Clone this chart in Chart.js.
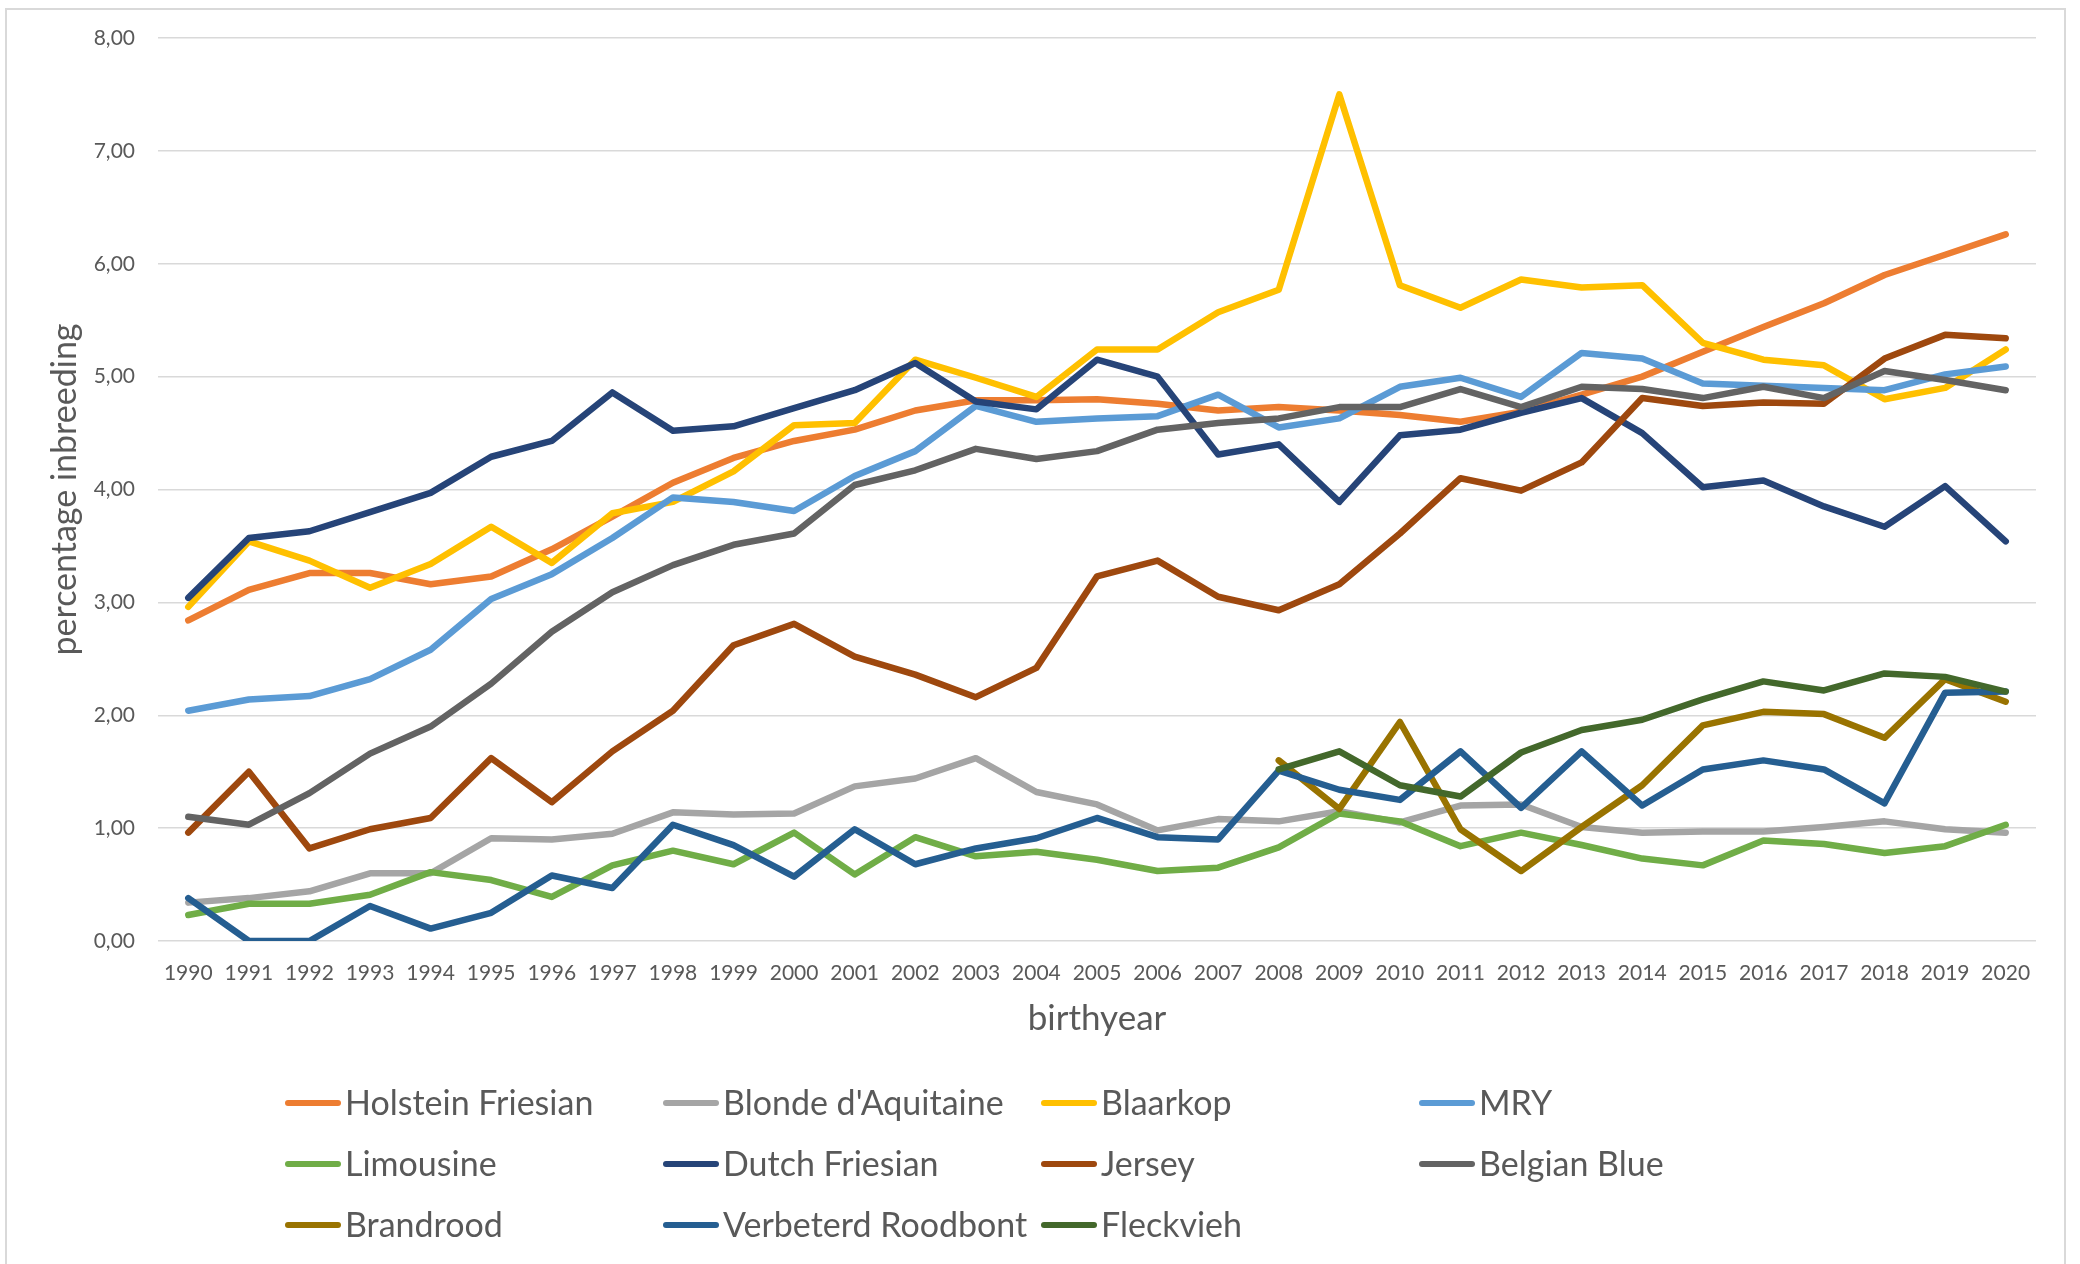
<!DOCTYPE html>
<html>
<head>
<meta charset="utf-8">
<script src="https://cdn.jsdelivr.net/npm/chart.js@4.4.1/dist/chart.umd.min.js"></script>
<style>
  html, body { margin: 0; padding: 0; background: #fff; }
  #wrap { width: 2080px; height: 1264px; }
</style>
</head>
<body>
<div id="wrap"><canvas id="inbreedingChart" width="2080" height="1264"></canvas></div>
<script>
// --- data ---
const years = ['1990','1991','1992','1993','1994','1995','1996','1997','1998','1999','2000',
  '2001','2002','2003','2004','2005','2006','2007','2008','2009','2010',
  '2011','2012','2013','2014','2015','2016','2017','2018','2019','2020'];

const breeds = ['Holstein Friesian', "Blonde d'Aquitaine", 'Blaarkop', 'MRY',
  'Limousine', 'Dutch Friesian', 'Jersey', 'Belgian Blue',
  'Brandrood', 'Verbeterd Roodbont', 'Fleckvieh'];

const holsteinFriesian = [2.84, 3.11, 3.26, 3.26, 3.16, 3.23, 3.47, 3.76, 4.06, 4.28, 4.43,
  4.53, 4.70, 4.79, 4.79, 4.80, 4.76, 4.70, 4.73, 4.70, 4.66,
  4.60, 4.69, 4.84, 5.00, 5.22, 5.44, 5.65, 5.90, 6.08, 6.26];
const blondeAquitaine = [0.34, 0.38, 0.44, 0.60, 0.60, 0.91, 0.90, 0.95, 1.14, 1.12, 1.13,
  1.37, 1.44, 1.62, 1.32, 1.21, 0.98, 1.08, 1.06, 1.15, 1.05,
  1.20, 1.21, 1.01, 0.96, 0.97, 0.97, 1.01, 1.06, 0.99, 0.96];
const blaarkop = [2.96, 3.54, 3.37, 3.13, 3.34, 3.67, 3.35, 3.79, 3.89, 4.16, 4.57,
  4.59, 5.15, 4.99, 4.82, 5.24, 5.24, 5.57, 5.77, 7.50, 5.81,
  5.61, 5.86, 5.79, 5.81, 5.30, 5.15, 5.10, 4.80, 4.90, 5.24];
const mry = [2.04, 2.14, 2.17, 2.32, 2.58, 3.03, 3.25, 3.57, 3.93, 3.89, 3.81,
  4.12, 4.34, 4.74, 4.60, 4.63, 4.65, 4.84, 4.55, 4.63, 4.91,
  4.99, 4.82, 5.21, 5.16, 4.94, 4.92, 4.90, 4.88, 5.02, 5.09];
const limousine = [0.23, 0.33, 0.33, 0.41, 0.61, 0.54, 0.39, 0.67, 0.80, 0.68, 0.96,
  0.59, 0.92, 0.75, 0.79, 0.72, 0.62, 0.65, 0.83, 1.13, 1.06,
  0.84, 0.96, 0.85, 0.73, 0.67, 0.89, 0.86, 0.78, 0.84, 1.03];
const dutchFriesian = [3.04, 3.57, 3.63, 3.80, 3.97, 4.29, 4.43, 4.86, 4.52, 4.56, 4.72,
  4.88, 5.12, 4.78, 4.71, 5.15, 5.00, 4.31, 4.40, 3.89, 4.48,
  4.53, 4.68, 4.81, 4.50, 4.02, 4.08, 3.85, 3.67, 4.03, 3.54];
const jersey = [0.96, 1.50, 0.82, 0.99, 1.09, 1.62, 1.23, 1.68, 2.04, 2.62, 2.81,
  2.52, 2.36, 2.16, 2.42, 3.23, 3.37, 3.05, 2.93, 3.16, 3.61,
  4.10, 3.99, 4.24, 4.81, 4.74, 4.77, 4.76, 5.16, 5.37, 5.34];
const belgianBlue = [1.10, 1.03, 1.31, 1.66, 1.90, 2.28, 2.74, 3.09, 3.33, 3.51, 3.61,
  4.04, 4.17, 4.36, 4.27, 4.34, 4.53, 4.59, 4.63, 4.73, 4.73,
  4.89, 4.73, 4.91, 4.89, 4.81, 4.91, 4.81, 5.05, 4.97, 4.88];
const brandrood = [null, null, null, null, null, null, null, null, null, null, null,
  null, null, null, null, null, null, null, 1.60, 1.17, 1.94,
  0.99, 0.62, 1.01, 1.38, 1.91, 2.03, 2.01, 1.80, 2.32, 2.12];
const verbeterdRoodbont = [0.38, 0.00, 0.00, 0.31, 0.11, 0.25, 0.58, 0.47, 1.03, 0.85, 0.57,
  0.99, 0.68, 0.82, 0.91, 1.09, 0.92, 0.90, 1.51, 1.34, 1.25,
  1.68, 1.18, 1.68, 1.20, 1.52, 1.60, 1.52, 1.22, 2.20, 2.21];
const fleckvieh = [null, null, null, null, null, null, null, null, null, null, null,
  null, null, null, null, null, null, null, 1.52, 1.68, 1.38,
  1.28, 1.67, 1.87, 1.96, 2.14, 2.30, 2.22, 2.37, 2.34, 2.21];

const yTicks = [0, 1, 2, 3, 4, 5, 6, 7, 8];

const seriesValues = [holsteinFriesian, blondeAquitaine, blaarkop, mry, limousine,
  dutchFriesian, jersey, belgianBlue, brandrood, verbeterdRoodbont, fleckvieh];
const seriesColors = ['#ED7D31', '#A5A5A5', '#FFC000', '#5B9BD5', '#70AD47',
  '#264478', '#9E480E', '#636363', '#997300', '#255E91', '#43682B'];

const FONT = 'Lato, "Open Sans", sans-serif';
const TEXT = '#595959';

// white background + light frame like the office chart box
const frame = {
  id: 'frame',
  beforeDraw(chart) {
    const ctx = chart.ctx;
    ctx.save();
    ctx.fillStyle = '#fff';
    ctx.fillRect(0, 0, chart.width, chart.height);
    ctx.strokeStyle = '#d9d9d9';
    ctx.lineWidth = 2;
    ctx.strokeRect(6, 9, chart.width - 21, chart.height + 20);
    ctx.restore();
  }
};

// legend as a 4-column grid below the axis title
const gridLegend = {
  id: 'gridLegend',
  afterDraw(chart) {
    const ctx = chart.ctx;
    const left = chart.chartArea.left + 127;
    const top = chart.height - 161;
    ctx.save();
    chart.data.datasets.forEach((ds, i) => {
      const x = left + (i % 4) * 378;
      const y = top + Math.floor(i / 4) * 61;
      ctx.strokeStyle = ds.borderColor;
      ctx.lineWidth = 6;
      ctx.lineCap = 'round';
      ctx.beginPath();
      ctx.moveTo(x + 3, y);
      ctx.lineTo(x + 53, y);
      ctx.stroke();
      ctx.fillStyle = TEXT;
      ctx.font = '34px ' + FONT;
      ctx.textBaseline = 'middle';
      ctx.textAlign = 'left';
      ctx.fillText(ds.label, x + 60, y + 1);
    });
    ctx.restore();
  }
};

const ctx = document.getElementById('inbreedingChart').getContext('2d');
new Chart(ctx, {
  type: 'line',
  data: {
    labels: years,
    datasets: breeds.map((name, i) => ({
      label: name,
      data: seriesValues[i],
      borderColor: seriesColors[i],
      backgroundColor: seriesColors[i],
      borderWidth: 6.5,
      borderCapStyle: 'round',
      borderJoinStyle: 'round',
      pointRadius: 0,
      pointHoverRadius: 0,
      tension: 0,
      spanGaps: false,
      fill: false,
      order: breeds.length - i
    }))
  },
  options: {
    responsive: false,
    animation: false,
    layout: { padding: { top: 38, right: 44, bottom: 189, left: 10 } },
    plugins: {
      legend: { display: false },
      tooltip: { enabled: false }
    },
    scales: {
      x: {
        offset: true,
        grid: { display: false, drawTicks: false },
        border: { display: false },
        ticks: {
          color: TEXT,
          font: { family: FONT, size: 21 },
          padding: 20,
          maxRotation: 0,
          autoSkip: false
        },
        title: {
          display: true,
          text: 'birthyear',
          color: TEXT,
          font: { family: FONT, size: 35 },
          padding: { top: 0, bottom: 35 }
        },
        afterFit: (scale) => { scale.height = 134; }
      },
      y: {
        min: 0,
        max: 8,
        afterBuildTicks: (scale) => { scale.ticks = yTicks.map(v => ({ value: v })); },
        grid: { color: '#d9d9d9', lineWidth: 1.5, drawTicks: false },
        border: { display: false },
        ticks: {
          color: TEXT,
          font: { family: FONT, size: 21 },
          padding: 23,
          callback: (v) => v.toFixed(2).replace('.', ',')
        },
        title: {
          display: true,
          text: 'percentage inbreeding',
          color: TEXT,
          font: { family: FONT, size: 34 },
          padding: { top: 35, bottom: 0 }
        },
        afterFit: (scale) => { scale.width = 148; }
      }
    }
  },
  plugins: [frame, gridLegend]
});
</script>
</body>
</html>
